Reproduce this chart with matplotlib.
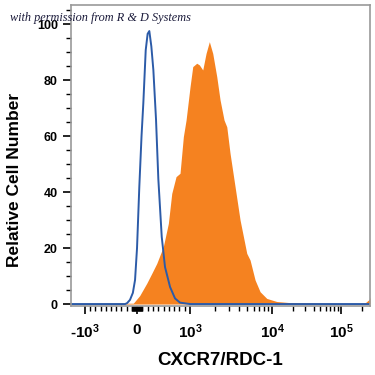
import numpy as np
import matplotlib
matplotlib.use("Agg")
import matplotlib.pyplot as plt
from matplotlib.ticker import FixedLocator, MultipleLocator

# isotype control (blue outline): intensity, relative count
iso_x = [-2000, -230, -192, -135, -80, -38, 0, 43, 85, 119, 164, 200, 232, 270, 308, 358, 402,
         466, 528, 623, 717, 811, 1000, 262144]
iso_y = [0, 0, 0.3, 1.5, 4, 8.6, 20, 41.8, 60, 71.8, 90.7, 96.5, 97.5, 92, 83.6, 66, 44.6,
         24, 13.2, 6.1, 2, 0.5, 0, 0]

# CXCR7/RDC-1 stained (orange fill)
cx_x = [-2000, -71, 50, 183, 280, 372, 496, 591, 655, 736, 811, 874, 925, 1000, 1079, 1207, 1299, 1428,
        1567, 1719, 1891, 2117, 2323, 2598, 2804, 3075, 3539, 4073, 4914, 5393, 6204, 7139,
        8618, 11700, 18240, 39270, 76500, 188400, 222600, 257000, 262144]
cx_y = [0, 0.3, 3, 7.4, 11, 14.5, 20.5, 28.8, 39.5, 45.5, 46.7, 59.8, 65.7, 77.6, 84.8, 86, 85.4, 83.6,
        89.5, 93.7, 89.5, 81.2, 72.9, 65.7, 63.3, 53.8, 41.9, 30, 18.1, 15.7, 8.6, 4.4,
        2, 0.9, 0.5, 0.35, 0.1, 0.2, 0.4, 1.7, 2.5]

major_ticks = [-1000, 0, 1000, 10000, 100000]
major_labels = [r'-$\mathbf{10^{3}}$', r'$\mathbf{0}$', r'$\mathbf{10^{3}}$',
                r'$\mathbf{10^{4}}$', r'$\mathbf{10^{5}}$']


# biexponential-like display scale: linear in +-1000, log outside
def _t(x):
    x = np.asarray(x, dtype=float)
    a = np.abs(x)
    with np.errstate(divide='ignore', invalid='ignore'):
        lg = np.sign(x) * (1 + np.log10(np.maximum(a, 1e-12) / 1000))
    return np.where(a <= 1000, x / 1000, lg)


def _tinv(t):
    t = np.asarray(t, dtype=float)
    with np.errstate(over='ignore'):
        lg = np.sign(t) * 1000 * 10 ** (np.abs(t) - 1)
    return np.where(np.abs(t) <= 1, t * 1000, lg)


T = np.array([-10, -1, 0, 1, 2, 3, 10])
P = np.array([85 - 46.5 * 9, 85, 137, 190, 272, 341, 341 + 69 * 7])


def fwd(x):
    return np.interp(_t(x), T, P)


def inv(p):
    return _tinv(np.interp(p, P, T))


plt.rcParams['font.family'] = ['Liberation Sans', 'DejaVu Sans']
plt.rcParams['mathtext.fontset'] = 'custom'
plt.rcParams['mathtext.bf'] = 'Liberation Sans:bold'
plt.rcParams['mathtext.rm'] = 'Liberation Sans'

fig = plt.figure(figsize=(3.75, 3.75), dpi=100)
ax = fig.add_axes([71 / 375, 1 - 306 / 375, 299 / 375, 301 / 375])
ax.set_xscale('function', functions=(fwd, inv))

ax.fill_between(cx_x, cx_y, 0, color='#F58220', lw=0)
ax.plot(iso_x, iso_y, color='#2C5BA8', lw=1.4)

ax.set_xlim(-2000, 262144)
ax.set_ylim(-0.7, 106.8)

minor = list(range(-900, -100, 100)) + list(range(-100, 101, 10)) + list(range(200, 1000, 100))
minor += [k * 1000 for k in range(2, 10)] + [k * 10000 for k in range(2, 10)] + [200000]
ax.xaxis.set_major_locator(FixedLocator(major_ticks))
ax.xaxis.set_minor_locator(FixedLocator(minor))
ax.set_xticklabels(major_labels, fontweight='bold')
ax.yaxis.set_major_locator(MultipleLocator(20))
ax.yaxis.set_minor_locator(MultipleLocator(5))

for s in ax.spines.values():
    s.set_color('#999999')
    s.set_linewidth(1.2)

ax.tick_params(axis='both', which='major', length=6, width=1.2, color='black')
ax.tick_params(axis='both', which='minor', length=3.5, width=1, color='black')
ax.tick_params(axis='y', which='major', labelsize=9)
ax.tick_params(axis='x', which='major', pad=6, labelsize=11)
for lab in ax.get_yticklabels():
    lab.set_fontweight('bold')

ax.set_xlabel('CXCR7/RDC-1', fontsize=13.5, fontweight='bold', labelpad=8)
ax.set_ylabel('Relative Cell Number', fontsize=12.5, fontweight='bold')
ax.yaxis.set_label_coords(-0.165, 0.42)

fig.text(10 / 375, 1 - 21 / 375, 'with permission from R & D Systems', fontsize=8.8,
         style='italic', family='Liberation Serif', color='#1a1a3a')

fig.savefig('out.png', dpi=100)
